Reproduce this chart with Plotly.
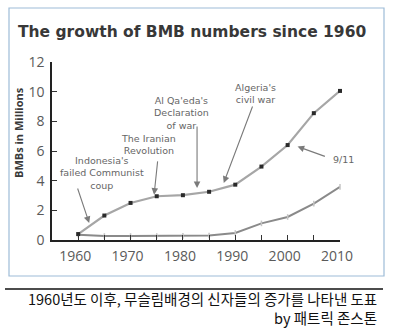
import plotly.graph_objects as go

years = [1960, 1965, 1970, 1975, 1980, 1985, 1990, 1995, 2000, 2005, 2010]
bmb_upper = [0.4, 1.65, 2.5, 2.95, 3.02, 3.25, 3.73, 4.95, 6.4, 8.55, 10.05]
bmb_lower = [0.35, 0.27, 0.27, 0.27, 0.28, 0.3, 0.47, 1.12, 1.55, 2.45, 3.58]
x_tickvals = [1960, 1965, 1970, 1975, 1980, 1985, 1990, 1995, 2000, 2005, 2010]
x_ticktext = ["1960", "", "1970", "", "1980", "", "1990", "", "2000", "", "2010"]
y_tickvals = [0, 2, 4, 6, 8, 10, 12]

title_text = "The growth of BMB numbers since 1960"
y_title = "BMBs in Millions"
caption1 = "1960년도 이후, 무슬림배경의 신자들의 증가를 나타낸 도표"
caption2 = "by 패트릭 존스톤"

# event annotations: label, text center (x, y), arrow tail, arrow head (data units)
events = [
    ("Indonesia's<br>failed Communist<br>coup", (1964.6, 4.5), (1959.8, 3.57), (1962.1, 1.15)),
    ("The Iranian<br>Revolution", (1973.4, 6.42), (1975.2, 5.4), (1974.5, 3.05)),
    ("Al Qa'eda's<br>Declaration<br>of war", (1979.8, 8.55), (1982.7, 7.75), (1982.7, 3.5)),
    ("Algeria's<br>civil war", (1993.9, 9.9), (1993.4, 9.1), (1987.8, 3.85)),
    ("9/11", (2010.6, 5.4), (2007.4, 5.6), (2001.9, 6.3)),
]

X0, X1 = 1955, 2010
Y0, Y1 = 0, 12

W, H = 400, 330
ML, MR, MT, MB = 52, 60, 62, 90
PW, PH = W - ML - MR, H - MT - MB


def px(xp):
    return (xp - ML) / PW


def py(yp):
    return (H - MB - yp) / PH


def dx(xv):
    return (xv - X0) / (X1 - X0)


def dy(yv):
    return (yv - Y0) / (Y1 - Y0)


fig = go.Figure()
fig.add_trace(go.Scatter(
    x=years, y=bmb_lower, mode="lines+markers",
    line=dict(color="#8a8a8a", width=2),
    marker=dict(symbol="line-ns", size=4, color="#c8c8c8", line=dict(color="#c4c4c4", width=1.5)),
    showlegend=False, cliponaxis=False,
))
fig.add_trace(go.Scatter(
    x=years, y=bmb_upper, mode="lines+markers",
    line=dict(color="#a6a6a6", width=2.2),
    marker=dict(symbol="square", size=4, color="#2a2a2a"),
    showlegend=False, cliponaxis=False,
))

annotations = []
for label, (tx, ty), (ax, ay), (hx, hy) in events:
    annotations.append(dict(
        x=dx(tx), y=dy(ty), xref="paper", yref="paper", xanchor="center", yanchor="middle",
        text=label, showarrow=False,
        font=dict(family="DejaVu Sans", size=9.5, color="#666666"), align="center",
    ))
    annotations.append(dict(
        x=hx, y=hy, ax=ax, ay=ay, xref="x", yref="y", axref="x", ayref="y",
        text="", showarrow=True, arrowhead=2, arrowsize=1.2, arrowwidth=1.1,
        arrowcolor="#7a7a7a",
    ))

annotations += [
    dict(x=px(16), y=py(32), xref="paper", yref="paper", xanchor="left", yanchor="middle",
         text="<b>" + title_text + "</b>", showarrow=False,
         font=dict(family="DejaVu Sans", size=15.5, color="#383838")),
    dict(x=px(18), y=py(133), xref="paper", yref="paper", xanchor="center", yanchor="middle",
         text="<b>" + y_title + "</b>", textangle=-90, showarrow=False,
         font=dict(family="Open Sans", size=11, color="#3a3a3a")),
    dict(x=px(379), y=py(298), xref="paper", yref="paper", xanchor="right", yanchor="middle",
         text=caption1, showarrow=False,
         font=dict(family="Noto Sans CJK KR", size=14.5, color="#111111")),
    dict(x=px(379), y=py(317), xref="paper", yref="paper", xanchor="right", yanchor="middle",
         text=caption2, showarrow=False,
         font=dict(family="Noto Sans CJK KR", size=14.5, color="#111111")),
]

shapes = [
    dict(type="rect", xref="paper", yref="paper", x0=px(9), x1=px(384), y0=py(276), y1=py(8),
         line=dict(color="#9dbcd8", width=1.2), layer="below"),
    dict(type="line", xref="paper", yref="paper", x0=px(5), x1=px(383), y0=py(289), y1=py(289),
         line=dict(color="#111111", width=1.3)),
]

fig.update_layout(
    width=W, height=H,
    margin=dict(l=ML, r=MR, t=MT, b=MB),
    paper_bgcolor="white", plot_bgcolor="white",
    annotations=annotations, shapes=shapes,
    xaxis=dict(range=[X0, X1], tickvals=x_tickvals, ticktext=x_ticktext,
               ticks="inside", ticklen=5, tickcolor="#333", tickwidth=1.2,
               showline=True, linecolor="#222", linewidth=1.6, showgrid=False, zeroline=False,
               tickfont=dict(family="Open Sans", size=14, color="#5a5a5a"), ticklabelshift=-3,
               ticklabelstandoff=2),
    yaxis=dict(range=[Y0, Y1], tickvals=y_tickvals,
               ticks="inside", ticklen=5, tickcolor="#333", tickwidth=1.2,
               showline=True, linecolor="#222", linewidth=1.6, showgrid=False, zeroline=False,
               tickfont=dict(family="Open Sans", size=14, color="#5a5a5a"), ticklabelstandoff=3),
)

fig.write_html("out.html")
